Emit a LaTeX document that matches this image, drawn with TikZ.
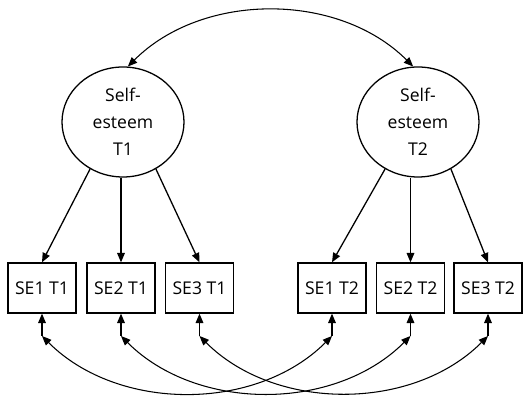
\documentclass[tikz,border=0pt]{standalone}
\usepackage{fontspec}
\setmainfont{Open Sans}
\usetikzlibrary{arrows.meta,shapes.geometric}

\begin{document}
\begin{tikzpicture}[x = 0.03cm, y = 0.03cm, >={Triangle[length=8pt,width=6.5pt]},
    latent/.style = {draw, ellipse, line width=1.1pt, inner sep=0pt, minimum width=3.66cm, minimum height=3.3cm, align=center, font=\fontsize{15}{23}\selectfont},
    item/.style = {draw, rectangle, line width=1.1pt, minimum width=2.04cm, minimum height=1.5cm, font=\fontsize{15}{18}\selectfont},
    path/.style = {->, line width=1.1pt},
    cov/.style = {<->, line width=0.9pt, looseness=0.95}]
      \useasboundingbox (0,0) rectangle (529,399);
      \node[latent] (se1) at (123,277) {Self-\\esteem\\T1};
      \node[latent] (se2) at (418,277) {Self-\\esteem\\T2};
      \node[item] (a1) at (42,111) {SE1 T1};
      \node[item] (a2) at (121,111) {SE2 T1};
      \node[item] (a3) at (199.5,111) {SE3 T1};
      \node[item] (b1) at (332,111) {SE1 T2};
      \node[item] (b2) at (410.5,111) {SE2 T2};
      \node[item] (b3) at (488,111) {SE3 T2};
      \coordinate (ea1) at (42,63);
      \coordinate (ea2) at (121,63);
      \coordinate (ea3) at (199.5,63);
      \coordinate (eb1) at (332,63);
      \coordinate (eb2) at (410.5,63);
      \coordinate (eb3) at (488,63);
      \draw[cov] (se1.85) to[out=45, in=135] (se2.95);
      \draw[path] (se1.-125) -- (a1.north);
      \draw[path] (a2.north |- se1.south) -- (a2.north);
      \draw[path] (se1.-55) -- (a3.north);
      \draw[path] (se2.-125) -- (b1.north);
      \draw[path] (b2.north |- se2.south) -- (b2.north);
      \draw[path] (se2.-55) -- (b3.north);
      \foreach \i in {1,2,3} {
        \draw[path] (ea\i) -- (a\i.south);
        \draw[path] (eb\i) -- (b\i.south);
        \draw[cov] (ea\i) to[out=-45, in=-135] (eb\i);
      }
    \end{tikzpicture}
\end{document}
